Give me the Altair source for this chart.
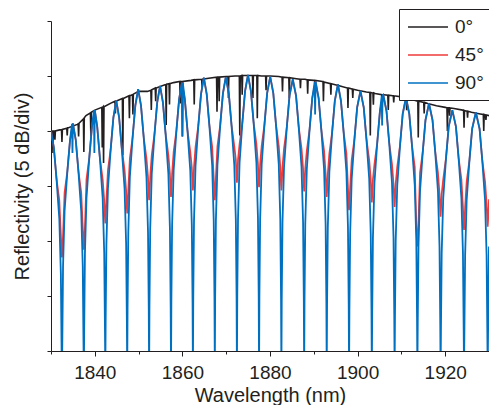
import altair as alt
import pandas as pd

# ---------------- data ----------------
series_names = ["0°", "45°", "90°"]
series_colors = ["#231f20", "#ee3b3b", "#0070c0"]

# 0° : smooth envelope with narrow dips
black_nm = [
    1830.0, 1830.35, 1830.45, 1830.55, 1830.8, 1830.9, 1831.0,
    1832.0, 1832.4, 1832.5, 1832.6, 1833.6, 1833.7, 1833.8, 1834.0,
    1836.0, 1836.2, 1836.3, 1836.4, 1837.4, 1837.5, 1837.6, 1838.0,
    1839.0, 1839.1, 1839.2, 1840.0, 1841.6, 1841.7, 1841.8, 1841.9, 1842.0, 1842.1,
    1844.0, 1844.6, 1844.7, 1844.8, 1846.3, 1846.4, 1846.5, 1847.8, 1847.9, 1848.0,
    1848.6, 1848.7, 1848.8, 1850.0, 1852.0, 1852.8, 1852.9, 1853.0, 1853.8, 1853.9, 1854.0,
    1856.0, 1856.2, 1856.3, 1856.4, 1856.95, 1857.05, 1857.15, 1858.0,
    1859.4, 1859.5, 1859.6, 1859.9, 1860.0, 1860.1, 1862.0, 1862.6, 1862.7, 1862.8,
    1864.4, 1864.5, 1864.6, 1866.0, 1867.8, 1867.9, 1868.0, 1868.3, 1868.4, 1868.5,
    1870.0, 1870.4, 1870.5, 1870.6, 1872.0, 1873.0, 1873.1, 1873.2, 1873.55, 1873.65, 1873.75,
    1874.0, 1876.0, 1876.1, 1876.2, 1877.0, 1877.1, 1877.2, 1878.0, 1879.0, 1879.1, 1879.2,
    1880.0, 1882.0, 1882.75, 1882.85, 1882.95, 1884.3, 1884.4, 1884.5, 1886.0,
    1886.85, 1886.95, 1887.05, 1888.0, 1888.5, 1888.6, 1888.7, 1890.0, 1890.2, 1890.3, 1890.4,
    1892.0, 1892.1, 1892.2, 1892.3, 1893.8, 1893.9, 1894.0, 1896.0, 1897.7, 1897.8, 1897.9,
    1898.0, 1898.8, 1898.9, 1899.0, 1900.0, 1902.0, 1902.8, 1902.9, 1903.0, 1903.5, 1903.6, 1903.7,
    1904.0, 1905.5, 1905.6, 1905.7, 1906.0, 1906.9, 1907.0, 1907.1, 1908.0, 1908.15, 1908.25, 1908.35,
    1910.0, 1911.1, 1911.2, 1911.3, 1912.0, 1913.75, 1913.85, 1913.95, 1914.0, 1915.1, 1915.2, 1915.3,
    1916.0, 1918.0, 1920.0, 1920.4, 1920.5, 1920.6, 1920.9, 1921.0, 1921.1, 1922.0,
    1924.0, 1924.2, 1924.3, 1924.4, 1925.0, 1925.1, 1925.2, 1926.0, 1928.0,
    1928.7, 1928.8, 1928.9, 1929.2, 1929.3, 1929.4, 1930.0,
]
black_db = [
    -10.0, -10.0, -12.0, -10.0, -10.0, -10.8, -10.0,
    -9.9, -9.9, -11.0, -9.85, -9.75, -10.4, -9.7, -9.7,
    -9.4, -9.35, -10.5, -9.3, -8.9, -11.9, -8.8, -8.6,
    -8.35, -10.5, -8.3, -8.1, -7.85, -11.5, -7.85, -7.8, -12.9, -7.8,
    -7.4, -7.3, -8.4, -7.3, -7.05, -12.2, -7.05, -6.8, -8.85, -6.8,
    -6.7, -8.5, -6.65, -6.4, -6.4, -6.3, -8.1, -6.25, -6.1, -7.3, -6.1,
    -5.8, -5.8, -9.45, -5.75, -5.7, -7.6, -5.7, -5.6,
    -5.5, -7.5, -5.5, -5.5, -10.5, -5.5, -5.4, -5.35, -7.6, -5.35,
    -5.3, -6.1, -5.3, -5.2, -5.1, -8.25, -5.1, -5.1, -7.3, -5.1,
    -5.05, -5.05, -7.0, -5.05, -5.0, -5.0, -10.4, -5.0, -4.95, -6.7, -4.95,
    -4.95, -4.95, -7.0, -4.95, -4.95, -8.85, -4.95, -5.0, -5.0, -6.3, -5.0,
    -5.0, -5.05, -5.1, -6.4, -5.1, -5.15, -7.0, -5.15, -5.25,
    -5.3, -6.1, -5.3, -5.3, -5.35, -6.6, -5.35, -5.4, -5.4, -7.5, -5.4,
    -5.5, -5.5, -7.3, -5.55, -5.7, -6.7, -5.7, -5.9, -6.1, -7.9, -6.1,
    -6.1, -6.2, -7.0, -6.2, -6.3, -6.45, -6.5, -10.4, -6.5, -6.55, -7.6, -6.55,
    -6.6, -6.7, -8.0, -6.7, -6.7, -6.75, -8.1, -6.75, -6.8, -6.8, -7.4, -6.8,
    -6.9, -7.0, -8.1, -7.0, -7.1, -7.3, -10.6, -7.3, -7.3, -7.4, -8.4, -7.4,
    -7.5, -7.7, -7.85, -7.9, -10.0, -7.9, -7.9, -8.6, -7.9, -7.95,
    -8.1, -8.1, -9.7, -8.15, -8.2, -8.8, -8.2, -8.3, -8.45,
    -8.5, -10.0, -8.5, -8.55, -9.0, -8.55, -8.6,
]

# 45° : fringes with partial extinction
red_nm = [
    1830.0, 1830.65, 1831.25,
    1831.9, 1832.25, 1832.42, 1832.5, 1832.58, 1832.75, 1833.1,
    1833.75, 1834.35, 1835.0, 1835.65, 1836.25,
    1836.9, 1837.25, 1837.42, 1837.5, 1837.58, 1837.75, 1838.1,
    1838.75, 1839.35, 1840.0, 1840.55, 1841.15,
    1841.8, 1842.15, 1842.32, 1842.4, 1842.48, 1842.65, 1843.0,
    1843.65, 1844.25, 1844.9, 1845.55, 1846.15,
    1846.8, 1847.15, 1847.32, 1847.4, 1847.48, 1847.65, 1848.0,
    1848.65, 1849.25, 1849.9, 1850.55, 1851.15,
    1851.8, 1852.15, 1852.32, 1852.4, 1852.48, 1852.65, 1853.0,
    1853.65, 1854.25, 1854.9, 1855.55, 1856.15,
    1856.8, 1857.15, 1857.32, 1857.4, 1857.48, 1857.65, 1858.0,
    1858.65, 1859.25, 1859.9, 1860.55, 1861.15,
    1861.8, 1862.15, 1862.32, 1862.4, 1862.48, 1862.65, 1863.0,
    1863.65, 1864.25, 1864.9, 1865.55, 1866.15,
    1866.8, 1867.15, 1867.32, 1867.4, 1867.48, 1867.65, 1868.0,
    1868.65, 1869.25, 1869.9, 1870.6, 1871.2,
    1871.85, 1872.2, 1872.37, 1872.45, 1872.53, 1872.7, 1873.05,
    1873.7, 1874.3, 1874.97, 1875.65, 1876.25,
    1876.9, 1877.25, 1877.42, 1877.5, 1877.58, 1877.75, 1878.1,
    1878.75, 1879.35, 1880.05, 1880.75, 1881.35,
    1882.0, 1882.35, 1882.52, 1882.6, 1882.68, 1882.85, 1883.2,
    1883.85, 1884.45, 1885.2, 1885.95, 1886.55,
    1887.2, 1887.55, 1887.72, 1887.8, 1887.88, 1888.05, 1888.4,
    1889.05, 1889.65, 1890.38, 1891.1, 1891.7,
    1892.35, 1892.7, 1892.87, 1892.95, 1893.03, 1893.2, 1893.55,
    1894.2, 1894.8, 1895.5, 1896.2, 1896.8,
    1897.45, 1897.8, 1897.97, 1898.05, 1898.13, 1898.3, 1898.65,
    1899.3, 1899.9, 1900.65, 1901.4, 1902.0,
    1902.65, 1903.0, 1903.17, 1903.25, 1903.33, 1903.5, 1903.85,
    1904.5, 1905.1, 1905.85, 1906.6, 1907.2,
    1907.85, 1908.2, 1908.37, 1908.45, 1908.53, 1908.7, 1909.05,
    1909.7, 1910.3, 1911.05, 1911.8, 1912.4,
    1913.05, 1913.4, 1913.57, 1913.65, 1913.73, 1913.9, 1914.25,
    1914.9, 1915.5, 1916.3, 1917.1, 1917.7,
    1918.35, 1918.7, 1918.87, 1918.95, 1919.03, 1919.2, 1919.55,
    1920.2, 1920.8, 1921.63, 1922.45, 1923.05,
    1923.7, 1924.05, 1924.22, 1924.3, 1924.38, 1924.55, 1924.9,
    1925.55, 1926.15, 1927.0, 1927.85, 1928.45,
    1929.1, 1929.45, 1929.62, 1929.7, 1929.78, 1929.95, 1930.0,
]
red_db = [
    -10.0, -11.5, -14.3,
    -16.3, -19.4, -21.0, -21.5, -21.0, -19.4, -15.6,
    -13.6, -10.8, -9.3, -10.8, -13.6,
    -15.6, -18.7, -20.3, -20.8, -20.3, -18.7, -14.4,
    -12.4, -9.6, -8.1, -9.6, -12.4,
    -14.4, -16.3, -17.9, -18.4, -17.9, -16.3, -13.55,
    -11.55, -8.75, -7.25, -8.75, -11.55,
    -13.55, -15.4, -17.0, -17.5, -17.0, -15.4, -12.5,
    -10.5, -7.7, -6.2, -7.7, -10.5,
    -12.5, -14.2, -15.8, -16.3, -15.8, -14.2, -12.2,
    -10.2, -7.4, -5.9, -7.4, -10.2,
    -12.2, -13.9, -15.5, -16.0, -15.5, -13.9, -11.9,
    -9.9, -7.1, -5.6, -7.1, -9.9,
    -11.9, -13.3, -14.9, -15.4, -14.9, -13.3, -11.45,
    -9.45, -6.65, -5.15, -6.65, -9.45,
    -11.45, -14.2, -15.8, -16.3, -15.8, -14.2, -11.4,
    -9.4, -6.6, -5.1, -6.6, -9.4,
    -11.4, -12.6, -14.2, -14.7, -14.2, -12.6, -11.2,
    -9.2, -6.4, -4.9, -6.4, -9.2,
    -11.2, -13.0, -14.6, -15.1, -14.6, -13.0, -11.35,
    -9.35, -6.55, -5.05, -6.55, -9.35,
    -11.35, -13.3, -14.9, -15.4, -14.9, -13.3, -11.6,
    -9.6, -6.8, -5.3, -6.8, -9.6,
    -11.6, -13.4, -15.0, -15.5, -15.0, -13.4, -11.8,
    -9.8, -7.0, -5.5, -7.0, -9.8,
    -11.8, -13.9, -15.5, -16.0, -15.5, -13.9, -12.05,
    -10.05, -7.25, -5.75, -7.25, -10.05,
    -12.05, -15.1, -16.7, -17.2, -16.7, -15.1, -12.65,
    -10.65, -7.85, -6.35, -7.85, -10.65,
    -12.65, -14.4, -16.0, -16.5, -16.0, -14.4, -13.0,
    -11.0, -8.2, -6.7, -8.2, -11.0,
    -13.0, -14.8, -16.4, -16.9, -16.4, -14.8, -13.25,
    -11.25, -8.45, -6.95, -8.45, -11.25,
    -13.25, -18.4, -20.0, -20.5, -20.0, -18.4, -13.8,
    -11.8, -9.0, -7.5, -9.0, -11.8,
    -13.8, -15.7, -17.3, -17.8, -17.3, -15.7, -14.4,
    -12.4, -9.6, -8.1, -9.6, -12.4,
    -14.4, -16.9, -18.5, -19.0, -18.5, -16.9, -14.6,
    -12.6, -9.8, -8.3, -9.8, -12.6,
    -14.6, -16.6, -18.2, -18.7, -18.2, -16.6, -16.2,
]

# 90° : fringes with full extinction (dips run below the frame)
blue_nm = [
    1830.0, 1830.65, 1831.25, 1831.9, 1832.25, 1832.42, 1832.5,
    1832.58, 1832.75, 1833.1, 1833.75, 1834.35, 1834.8, 1834.9, 1835.0, 1835.65, 1836.25, 1836.9, 1837.25, 1837.42, 1837.5,
    1837.58, 1837.75, 1838.1, 1838.75, 1839.35, 1839.8, 1839.9, 1840.0, 1840.55, 1841.15, 1841.8, 1842.15, 1842.32, 1842.4,
    1842.48, 1842.65, 1843.0, 1843.65, 1844.25, 1844.9, 1845.55, 1846.15, 1846.8, 1847.15, 1847.32, 1847.4,
    1847.48, 1847.65, 1848.0, 1848.65, 1849.25, 1849.9, 1850.55, 1851.15, 1851.8, 1852.15, 1852.32, 1852.4,
    1852.48, 1852.65, 1853.0, 1853.65, 1854.25, 1854.9, 1855.55, 1856.15, 1856.8, 1857.15, 1857.32, 1857.4,
    1857.48, 1857.65, 1858.0, 1858.65, 1859.25, 1859.9, 1860.0, 1860.1, 1860.55, 1861.15, 1861.8, 1862.15, 1862.32, 1862.4,
    1862.48, 1862.65, 1863.0, 1863.65, 1864.25, 1864.9, 1865.55, 1866.15, 1866.8, 1867.15, 1867.32, 1867.4,
    1867.48, 1867.65, 1868.0, 1868.65, 1869.25, 1869.9, 1870.6, 1871.2, 1871.85, 1872.2, 1872.37, 1872.45,
    1872.53, 1872.7, 1873.05, 1873.7, 1874.3, 1874.97, 1875.65, 1876.25, 1876.9, 1877.25, 1877.42, 1877.5,
    1877.58, 1877.75, 1878.1, 1878.75, 1879.35, 1880.05, 1880.75, 1881.35, 1882.0, 1882.35, 1882.52, 1882.6,
    1882.68, 1882.85, 1883.2, 1883.85, 1884.45, 1885.2, 1885.95, 1886.55, 1887.2, 1887.55, 1887.72, 1887.8,
    1887.88, 1888.05, 1888.4, 1889.05, 1889.65, 1890.2, 1890.3, 1890.4, 1891.1, 1891.7, 1892.35, 1892.7, 1892.87, 1892.95,
    1893.03, 1893.2, 1893.55, 1894.2, 1894.8, 1895.5, 1896.2, 1896.8, 1897.45, 1897.8, 1897.97, 1898.05,
    1898.13, 1898.3, 1898.65, 1899.3, 1899.9, 1900.65, 1901.4, 1902.0, 1902.65, 1903.0, 1903.17, 1903.25,
    1903.33, 1903.5, 1903.85, 1904.5, 1905.1, 1905.5, 1905.6, 1905.7, 1905.85, 1906.6, 1907.2, 1907.85, 1908.2, 1908.37, 1908.45,
    1908.53, 1908.7, 1909.05, 1909.7, 1910.3, 1911.05, 1911.8, 1912.4, 1913.05, 1913.4, 1913.57, 1913.65,
    1913.73, 1913.9, 1914.25, 1914.9, 1915.5, 1916.3, 1917.1, 1917.7, 1918.35, 1918.7, 1918.87, 1918.95,
    1919.03, 1919.2, 1919.55, 1920.2, 1920.8, 1921.63, 1922.45, 1923.05, 1923.7, 1924.05, 1924.22, 1924.3,
    1924.38, 1924.55, 1924.9, 1925.55, 1926.15, 1927.0, 1927.85, 1928.45, 1929.1, 1929.45, 1929.62, 1929.7,
    1929.78, 1929.95, 1930.0,
]
blue_db = [
    -10.0, -11.5, -14.3, -18.0, -23.0, -30.0, -32.0,
    -29.3, -22.3, -17.3, -13.6, -10.8, -9.35, -12.0, -9.3, -10.8, -13.6, -17.3, -22.3, -29.3, -32.0,
    -28.1, -21.1, -16.1, -12.4, -9.6, -8.15, -12.0, -8.1, -9.6, -12.4, -16.1, -21.1, -28.1, -32.0,
    -27.25, -20.25, -15.25, -11.55, -8.75, -7.25, -8.75, -11.55, -15.25, -20.25, -27.25, -32.0,
    -26.2, -19.2, -14.2, -10.5, -7.7, -6.2, -7.7, -10.5, -14.2, -19.2, -26.2, -32.0,
    -25.9, -18.9, -13.9, -10.2, -7.4, -5.9, -7.4, -10.2, -13.9, -18.9, -25.9, -32.0,
    -25.6, -18.6, -13.6, -9.9, -7.1, -5.6, -10.5, -5.65, -7.1, -9.9, -13.6, -18.6, -25.6, -32.0,
    -25.15, -18.15, -13.15, -9.45, -6.65, -5.15, -6.65, -9.45, -13.15, -18.15, -25.15, -32.0,
    -25.1, -18.1, -13.1, -9.4, -6.6, -5.1, -6.6, -9.4, -13.1, -18.1, -25.1, -32.0,
    -24.9, -17.9, -12.9, -9.2, -6.4, -4.9, -6.4, -9.2, -12.9, -17.9, -24.9, -32.0,
    -25.05, -18.05, -13.05, -9.35, -6.55, -5.05, -6.55, -9.35, -13.05, -18.05, -25.05, -32.0,
    -25.3, -18.3, -13.3, -9.6, -6.8, -5.3, -6.8, -9.6, -13.3, -18.3, -25.3, -32.0,
    -25.5, -18.5, -13.5, -9.8, -7.0, -5.55, -8.5, -5.5, -7.0, -9.8, -13.5, -18.5, -25.5, -32.0,
    -25.75, -18.75, -13.75, -10.05, -7.25, -5.75, -7.25, -10.05, -13.75, -18.75, -25.75, -32.0,
    -26.35, -19.35, -14.35, -10.65, -7.85, -6.35, -7.85, -10.65, -14.35, -19.35, -26.35, -32.0,
    -26.7, -19.7, -14.7, -11.0, -8.2, -6.85, -9.5, -6.75, -6.7, -8.2, -11.0, -14.7, -19.7, -26.7, -32.0,
    -26.95, -19.95, -14.95, -11.25, -8.45, -6.95, -8.45, -11.25, -14.95, -19.95, -26.95, -32.0,
    -27.5, -20.5, -15.5, -11.8, -9.0, -7.5, -9.0, -11.8, -15.5, -20.5, -27.5, -32.0,
    -28.1, -21.1, -16.1, -12.4, -9.6, -8.1, -9.6, -12.4, -16.1, -21.1, -28.1, -32.0,
    -28.3, -21.3, -16.3, -12.6, -9.8, -8.3, -9.8, -12.6, -16.3, -21.3, -28.3, -32.0,
    -28.6, -21.6, -20.5,
]

x_tick_values = [1830, 1840, 1850, 1860, 1870, 1880, 1890, 1900, 1910, 1920, 1930]
y_tick_values = [-30, -25, -20, -15, -10, -5, 0]

# ---------------- build table ----------------
frames = []
for name, xs, ys in zip(series_names,
                        [black_nm, red_nm, blue_nm],
                        [black_db, red_db, blue_db]):
    frames.append(pd.DataFrame({"nm": xs, "db": ys, "series": name}))
df = pd.concat(frames, ignore_index=True)

FONT = "Liberation Sans"
INK = "#231f20"

x_enc = alt.X(
    "nm:Q",
    scale=alt.Scale(domain=[1830, 1930], nice=False, zero=False),
    axis=alt.Axis(
        values=x_tick_values,
        format="d",
        labelExpr="datum.value % 20 == 0 ? datum.label : ''",
        tickSize={"condition": {"test": "datum.value % 20 == 0", "value": 5}, "value": 3},
        labelPadding=7,
        titlePadding=3,
        grid=False,
    ),
    title="Wavelength (nm)",
)
y_enc = alt.Y(
    "db:Q",
    scale=alt.Scale(domain=[-30, 0], nice=False, zero=False),
    axis=alt.Axis(values=y_tick_values, labels=False, tickSize=4,
                  titlePadding=14, grid=False),
    title="Reflectivity (5 dB/div)",
)
color_enc = alt.Color(
    "series:N",
    scale=alt.Scale(domain=series_names, range=series_colors),
    legend=alt.Legend(
        title=None, orient="none", legendX=348, legendY=-12,
        symbolType="M-2,0L2,0", symbolSize=400, symbolStrokeWidth=1.5,
        symbolOffset=11, labelOffset=16,
        labelFontSize=19, labelFont=FONT, labelColor=INK,
        strokeColor=INK, fillColor="white", padding=7, rowPadding=7,
    ),
)

widths = [1.6, 1.7, 1.8]
layers = []
for name, w in zip(series_names, widths):
    layers.append(
        alt.Chart(df)
        .transform_filter(alt.datum.series == name)
        .mark_line(clip=True, strokeWidth=w)
        .encode(x=x_enc, y=y_enc, color=color_enc)
    )

chart = (
    alt.layer(*layers)
    .properties(
        width=438, height=330,
        autosize=alt.AutoSizeParams(type="none"),
        padding={"left": 43, "top": 13, "right": 0, "bottom": 54},
    )
    .configure_view(strokeWidth=0)
    .configure_axis(
        labelFont=FONT, titleFont=FONT, labelFontSize=19, titleFontSize=20,
        labelColor=INK, titleColor=INK, titleFontWeight="normal",
        domainColor=INK, tickColor=INK, domainWidth=1, tickWidth=1,
    )
)

chart.save("out.html", embed_options={"renderer": "svg", "actions": False})
